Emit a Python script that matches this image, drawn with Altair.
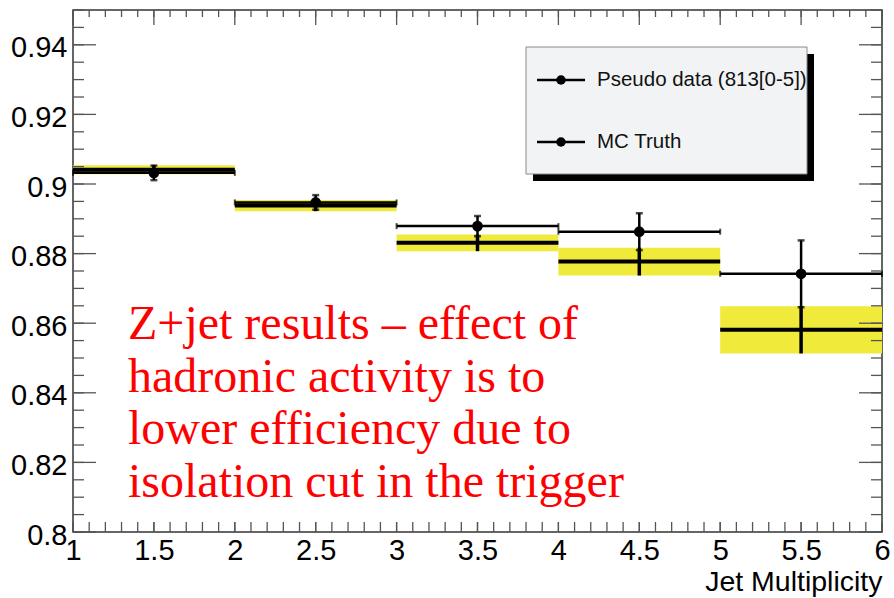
import altair as alt
import numpy as np
import pandas as pd

# ---------------- data ----------------
bin_lo = [1, 2, 3, 4, 5]
bin_hi = [2, 3, 4, 5, 6]
bin_center = [1.5, 2.5, 3.5, 4.5, 5.5]
pseudo = [0.9032, 0.8947, 0.8879, 0.8863, 0.8742]
pseudo_err = [0.0021, 0.0021, 0.0029, 0.0053, 0.0096]
mc_truth = [0.9041, 0.8938, 0.8831, 0.8777, 0.8581]
mc_err = [0.0013, 0.0016, 0.0024, 0.0040, 0.0068]

y_label_values = [0.80, 0.82, 0.84, 0.86, 0.88, 0.90, 0.92, 0.94]
x_label_values = [1, 1.5, 2, 2.5, 3, 3.5, 4, 4.5, 5, 5.5, 6]
y_minor_ticks = [round(v, 3) for v in np.arange(0.80, 0.9501, 0.005)]
x_minor_ticks = [round(v, 2) for v in np.arange(1.0, 6.001, 0.1)]

legend_labels = ["Pseudo data (813[0-5])", "MC Truth"]
annotation = ["Z+jet results \u2013 effect of",
              "hadronic activity is to",
              "lower efficiency due to",
              "isolation cut in the trigger"]

df = pd.DataFrame({
    "lo": bin_lo, "hi": bin_hi, "center": bin_center,
    "pd": pseudo,
    "pd_lo": [p - e for p, e in zip(pseudo, pseudo_err)],
    "pd_hi": [p + e for p, e in zip(pseudo, pseudo_err)],
    "mc": mc_truth,
    "mc_lo": [m - e for m, e in zip(mc_truth, mc_err)],
    "mc_hi": [m + e for m, e in zip(mc_truth, mc_err)],
})

W, H = 809, 522
FONT = "Liberation Sans"
YELLOW = "#f0ea3a"

xs = alt.Scale(domain=[1, 6], nice=False, zero=False)
ys = alt.Scale(domain=[0.80, 0.95], nice=False, zero=False)

x_axis = alt.Axis(values=x_label_values, labelExpr="format(datum.value, '~g')",
                  grid=False, ticks=False, domain=False, labelFlush=False,
                  labelFont=FONT, labelFontSize=29, labelColor="#000",
                  labelPadding=4, labelBaseline="top",
                  title="Jet Multiplicity", titleFont=FONT, titleFontSize=28.5,
                  titleFontWeight="normal", titleColor="#000",
                  titleAnchor="end", titleAlign="right", titleX=W, titleY=58,
                  titleBaseline="alphabetic")
y_axis = alt.Axis(values=y_label_values, labelExpr="format(datum.value, '~g')",
                  grid=False, ticks=False, domain=False,
                  labelFont=FONT, labelFontSize=29, labelColor="#000",
                  labelPadding=6, labelOffset=3, title=None, labelFlush=False)

X = lambda f: alt.X(f, type="quantitative", scale=xs, axis=x_axis)
Y = lambda f: alt.Y(f, type="quantitative", scale=ys, axis=y_axis)

base = alt.Chart(df)

band = base.mark_rect(color=YELLOW).encode(
    x=X("lo"), x2="hi", y=Y("mc_lo"), y2="mc_hi")
mc_line = base.mark_rule(color="#000", strokeWidth=4).encode(
    x=X("lo"), x2="hi", y=Y("mc"))
mc_vert = base.mark_rule(color="#000", strokeWidth=3.5).encode(
    x=X("center"), y=Y("mc_lo"), y2="mc_hi")
pd_line = base.mark_rule(color="#000", strokeWidth=2.5).encode(
    x=X("lo"), x2="hi", y=Y("pd"))
pd_end_lo = base.mark_tick(color="#000", orient="vertical", size=6, thickness=2).encode(
    x=X("lo"), y=Y("pd"))
pd_end_hi = base.mark_tick(color="#000", orient="vertical", size=6, thickness=2).encode(
    x=X("hi"), y=Y("pd"))
pd_vert = base.mark_rule(color="#000", strokeWidth=2.5).encode(
    x=X("center"), y=Y("pd_lo"), y2="pd_hi")
pd_cap_lo = base.mark_tick(color="#000", orient="horizontal", size=7, thickness=2.5).encode(
    x=X("center"), y=Y("pd_lo"))
pd_cap_hi = base.mark_tick(color="#000", orient="horizontal", size=7, thickness=2.5).encode(
    x=X("center"), y=Y("pd_hi"))
pd_pts = base.mark_point(filled=True, color="#000", size=115, opacity=1).encode(
    x=X("center"), y=Y("pd"))

# ---------------- inward ROOT-style ticks ----------------
ydf_minor = pd.DataFrame({"v": y_minor_ticks})
ydf_major = pd.DataFrame({"v": y_label_values})
xdf_minor = pd.DataFrame({"v": x_minor_ticks})
xdf_major = pd.DataFrame({"v": x_label_values})
TC = "#555"

def yticks(d, length):
    left = alt.Chart(d).mark_rule(color=TC, strokeWidth=1.3).encode(
        y=Y("v"), x=alt.value(0), x2=alt.value(length))
    right = alt.Chart(d).mark_rule(color=TC, strokeWidth=1.3).encode(
        y=Y("v"), x=alt.value(W - length), x2=alt.value(W))
    return [left, right]

def xticks(d, length_top, length_bot):
    top = alt.Chart(d).mark_rule(color=TC, strokeWidth=1.3).encode(
        x=X("v"), y=alt.value(0), y2=alt.value(length_top))
    bot = alt.Chart(d).mark_rule(color=TC, strokeWidth=1.3).encode(
        x=X("v"), y=alt.value(H - length_bot), y2=alt.value(H))
    return [top, bot]

tick_layers = (yticks(ydf_minor, 11) + yticks(ydf_major, 23)
               + xticks(xdf_minor, 7, 10) + xticks(xdf_major, 15, 10))

# ---------------- annotation ----------------
ann = alt.Chart(pd.DataFrame({"t": ["\n".join(annotation)]})).mark_text(
    font="Liberation Serif", fontSize=48, color="#ff0000", align="left",
    baseline="alphabetic", lineBreak="\n", lineHeight=52.6).encode(
    text="t:N", x=alt.value(55), y=alt.value(329))

# ---------------- legend box ----------------
one = pd.DataFrame({"a": [0]})
shadow = alt.Chart(one).mark_rect(color="#000").encode(
    x=alt.value(460), x2=alt.value(741), y=alt.value(44), y2=alt.value(171))
box = alt.Chart(one).mark_rect(fill="#f2f3f5", stroke="#8a8a8a", strokeWidth=1).encode(
    x=alt.value(453), x2=alt.value(734), y=alt.value(37), y2=alt.value(164))
legend_layers = [shadow, box]
for i, lab in enumerate(legend_labels):
    yy = 70 + 62 * i
    d = pd.DataFrame({"label": [lab]})
    legend_layers.append(alt.Chart(d).mark_rule(color="#000", strokeWidth=2.5).encode(
        x=alt.value(464), x2=alt.value(512), y=alt.value(yy)))
    legend_layers.append(alt.Chart(d).mark_point(filled=True, color="#000", size=90, opacity=1).encode(
        x=alt.value(488), y=alt.value(yy)))
    legend_layers.append(alt.Chart(d).mark_text(font=FONT, fontSize=20.5, color="#111",
                                                align="left", baseline="middle").encode(
        text="label:N", x=alt.value(524), y=alt.value(yy)))

chart = alt.layer(
    band, mc_line, mc_vert, pd_line, pd_end_lo, pd_end_hi, pd_vert, pd_cap_lo, pd_cap_hi, pd_pts,
    *tick_layers, ann, *legend_layers
).properties(
    width=W, height=H,
    autosize=alt.AutoSizeParams(type="none"),
    padding={"left": 73, "top": 10, "right": 12, "bottom": 66},
    background="#ffffff",
).configure_view(stroke="#333", strokeWidth=1.5)

chart.save("out.html", embed_options={"renderer": "svg", "actions": False})
